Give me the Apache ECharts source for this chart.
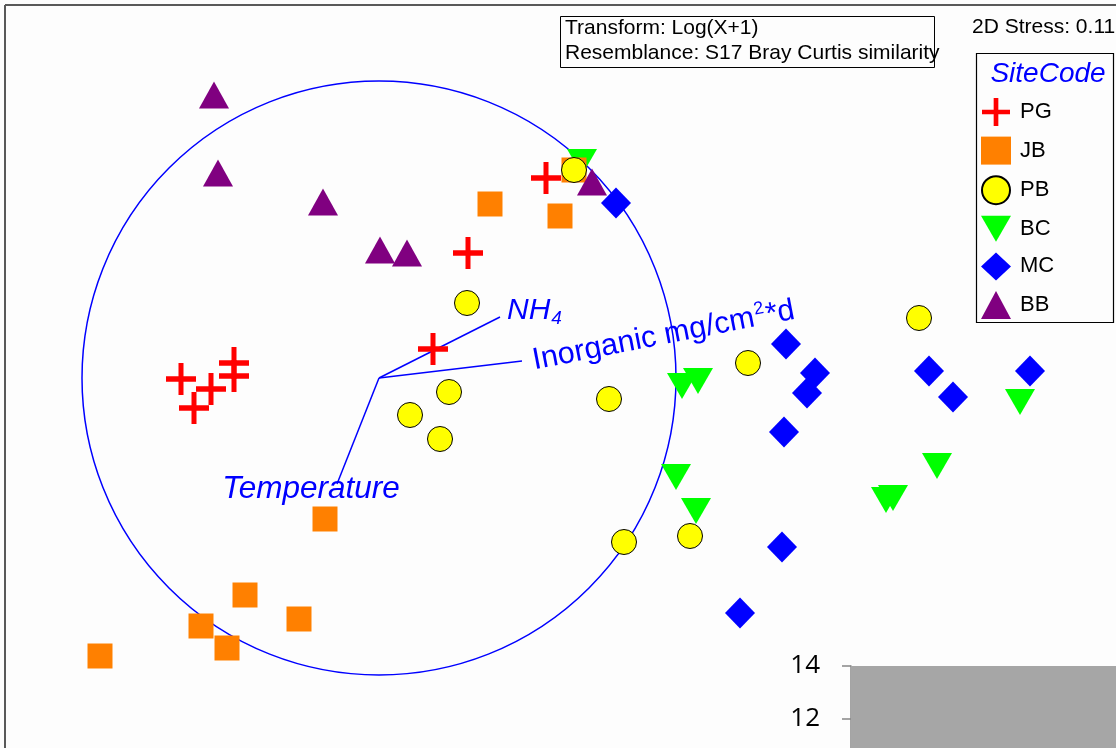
<!DOCTYPE html>
<html><head><meta charset="utf-8">
<script src="https://cdn.jsdelivr.net/npm/echarts@6/dist/echarts.min.js"></script>
<style>html,body{margin:0;padding:0;background:#fdfdfd}#c{width:1116px;height:748px}</style>
</head><body><div id="c"></div>
<script>
// nMDS ordination coordinates (axis 1, axis 2) per SiteCode
const siteCodes = ['PG','JB','PB','BC','MC','BB'];
const pgX = [1.67,0.89,0.54,-1.98,-1.68,-1.45,-1.45,-1.85];
const pgY = [2.00,1.25,0.29,-0.01,-0.11,0.15,0.02,-0.30];
const jbX = [1.95,1.11,1.81,-0.54,-1.34,-0.80,-1.78,-1.52,-2.79];
const jbY = [2.08,1.74,1.62,-1.41,-2.17,-2.41,-2.48,-2.70,-2.78];
const pbX = [1.95,0.88,0.70,0.31,0.61,2.30,3.69,5.40,2.45,3.11];
const pbY = [2.08,0.75,-0.14,-0.37,-0.61,-0.21,0.15,0.60,-1.64,-1.58];
const bcX = [2.03,3.03,3.19,2.97,3.17,5.07,5.14,5.58,6.41];
const bcY = [2.16,-0.08,-0.03,-0.99,-1.33,-1.22,-1.20,-0.88,-0.24];
const mcX = [2.37,4.07,4.36,4.28,4.05,5.50,5.74,6.51,4.03,3.61];
const mcY = [1.75,0.34,0.05,-0.15,-0.54,0.07,-0.19,0.07,-1.69,-2.35];
const bbX = [-1.65,-1.61,-0.56,0.01,0.28,2.13];
const bbY = [2.83,2.05,1.76,1.28,1.25,1.96];
// environmental vectors (correlation circle radius and vector end points)
const circleRadius = 2.97;
const vectorNames = ['NH4','Inorganic mg/cm2*d','Temperature'];
const vectorX = [1.21,1.43,-0.42];
const vectorY = [0.61,0.17,-1.06];
const vectorLabelX = [1.28,1.54,-0.68];
const vectorLabelY = [0.67,0.17,-1.11];
// inset bar chart (partially visible)
const insetCategories = ['A'];
const insetValues = [14];
const insetTicks = [12,14];

const pair = (xs, ys) => xs.map((x, i) => [x, ys[i]]);
const FONT = '"Liberation Sans", Arial, sans-serif';
const BLUE = '#0000ff';
const crossPath = 'path://M12.5,0h5v12.5h12.5v5h-12.5v12.5h-5v-12.5h-12.5v-5h12.5z';
const downTriPath = 'path://M0,0L30,0L15,26Z';

const chart = echarts.init(document.getElementById('c'), null, {renderer: 'canvas'});

const vectorSeries = vectorNames.map((n, i) => ({
  type: 'line', name: 'vec' + i, xAxisIndex: 0, yAxisIndex: 0,
  data: [[0, 0], [vectorX[i], vectorY[i]]], symbol: 'none', silent: true,
  lineStyle: {color: BLUE, width: 1.5}, z: 2
}));

const labelStyles = [
  {text: '{a|NH}{b|4}', align: 'left', verticalAlign: 'middle', fontStyle: 'italic', rot: 0, size: 30},
  {text: '{a|Inorganic mg/cm}{s|2}{a|*d}', align: 'left', verticalAlign: 'middle', fontStyle: 'normal', rot: 11, size: 30.5},
  {text: '{a|Temperature}', align: 'center', verticalAlign: 'middle', fontStyle: 'italic', rot: 0, size: 31.5}
];

const option = {
  animation: false,
  backgroundColor: '#fdfdfd',
  grid: [
    {left: 0, right: 0, top: 0, bottom: 0},
    {left: 851, top: 666, right: -200, bottom: 0}
  ],
  xAxis: [
    {type: 'value', min: -3.79, max: 7.37, show: false, gridIndex: 0},
    {type: 'category', data: insetCategories, gridIndex: 1, show: false}
  ],
  yAxis: [
    {type: 'value', min: -3.70, max: 3.78, show: false, gridIndex: 0},
    {type: 'value', gridIndex: 1, min: 10.906, max: 14,
     axisLine: {show: true, lineStyle: {color: '#868686', width: 1.5}},
     axisTick: {show: true, length: 9, customValues: insetTicks, lineStyle: {color: '#868686', width: 1.5}},
     splitLine: {show: false},
     axisLabel: {margin: 31, fontSize: 26, color: '#000', fontFamily: '"Open Sans", sans-serif',
       customValues: insetTicks, showMaxLabel: true, formatter: v => String(v)}}
  ],
  legend: {
    data: siteCodes, orient: 'vertical', left: 981, top: 98, padding: 0,
    itemWidth: 30, itemHeight: 28, itemGap: 10.6,
    textStyle: {fontSize: 22, color: '#000', fontFamily: FONT, padding: [0, 0, 0, 4]},
    selectedMode: false
  },
  graphic: [
    {type: 'line', shape: {x1: 5, y1: 5, x2: 1116, y2: 5}, style: {stroke: '#595959', lineWidth: 2}, z: 100},
    {type: 'line', shape: {x1: 5, y1: 5, x2: 5, y2: 748}, style: {stroke: '#595959', lineWidth: 2}, z: 100},
    {type: 'rect', shape: {x: 560.5, y: 16.5, width: 374, height: 51}, style: {fill: 'transparent', stroke: '#000', lineWidth: 1}, z: 100},
    {type: 'text', x: 565, y: 28, style: {text: 'Transform: Log(X+1)', fontSize: 21, fontFamily: FONT, fill: '#000', verticalAlign: 'middle'}, z: 100},
    {type: 'text', x: 565, y: 53, style: {text: 'Resemblance: S17 Bray Curtis similarity', fontSize: 21, fontFamily: FONT, fill: '#000', verticalAlign: 'middle'}, z: 100},
    {type: 'text', x: 972, y: 27, style: {text: '2D Stress: 0.11', fontSize: 21, fontFamily: FONT, fill: '#000', verticalAlign: 'middle'}, z: 100},
    {type: 'rect', shape: {x: 976.5, y: 53.5, width: 137, height: 269}, style: {fill: '#fdfdfd', stroke: '#000', lineWidth: 1.2}, z: -1},
    {type: 'text', x: 1048, y: 74, style: {text: 'SiteCode', fontSize: 28, fontStyle: 'italic', fontFamily: FONT, fill: BLUE, align: 'center', verticalAlign: 'middle'}, z: 100}
  ],
  series: [
    {
      type: 'custom', name: 'circle', xAxisIndex: 0, yAxisIndex: 0, silent: true, z: 1,
      data: [[0, 0]],
      renderItem: (params, api) => {
        const c = api.coord([api.value(0), api.value(1)]);
        const r = api.size([circleRadius, 0])[0];
        return {type: 'circle', shape: {cx: c[0], cy: c[1], r: r}, style: {fill: 'none', stroke: BLUE, lineWidth: 1.5}};
      }
    },
    ...vectorSeries,
    {type: 'scatter', name: 'BC', data: pair(bcX, bcY), symbol: downTriPath, symbolSize: [30, 26], itemStyle: {color: '#00ff00', opacity: 1}, z: 3},
    {type: 'scatter', name: 'PG', data: pair(pgX, pgY), symbol: crossPath, symbolSize: [30, 32], itemStyle: {color: '#ff0000', opacity: 1}, z: 3},
    {type: 'scatter', name: 'JB', data: pair(jbX, jbY), symbol: 'rect', symbolSize: 25, itemStyle: {color: '#ff8000', opacity: 1}, z: 3},
    {type: 'scatter', name: 'PB', data: pair(pbX, pbY), symbol: 'circle', symbolSize: 25, itemStyle: {color: '#ffff00', borderColor: '#000', borderWidth: 1, opacity: 1}, z: 3},
    {type: 'scatter', name: 'MC', data: pair(mcX, mcY), symbol: 'diamond', symbolSize: [30, 31], itemStyle: {color: '#0000ff', opacity: 1}, z: 3},
    {type: 'scatter', name: 'BB', data: pair(bbX, bbY), symbol: 'triangle', symbolSize: [30, 27], itemStyle: {color: '#800080', opacity: 1}, z: 3},
    {
      type: 'custom', name: 'vecLabels', xAxisIndex: 0, yAxisIndex: 0, silent: true, z: 4,
      data: pair(vectorLabelX, vectorLabelY),
      renderItem: (params, api) => {
        const p = api.coord([api.value(0), api.value(1)]);
        const ls = labelStyles[params.dataIndex];
        return {
          type: 'text', x: p[0], y: p[1], rotation: ls.rot * Math.PI / 180,
          style: {
            text: ls.text, align: ls.align, verticalAlign: ls.verticalAlign, fill: BLUE,
            rich: {
              a: {fontSize: ls.size, fontStyle: ls.fontStyle, fontFamily: FONT, color: BLUE, lineHeight: 34, verticalAlign: 'middle'},
              b: {fontSize: 19, fontStyle: ls.fontStyle, fontFamily: FONT, color: BLUE, lineHeight: 34, verticalAlign: 'bottom', padding: [8, 0, 0, 1]},
              s: {fontSize: 18, fontStyle: ls.fontStyle, fontFamily: FONT, color: BLUE, lineHeight: 34, verticalAlign: 'top', padding: [0, 1, 10, 1]}
            }
          }
        };
      }
    },
    {type: 'bar', name: 'inset', xAxisIndex: 1, yAxisIndex: 1, data: insetValues, barWidth: '100%', itemStyle: {color: '#a6a6a6', opacity: 1}, z: 2}
  ]
};
chart.setOption(option);
</script></body></html>
